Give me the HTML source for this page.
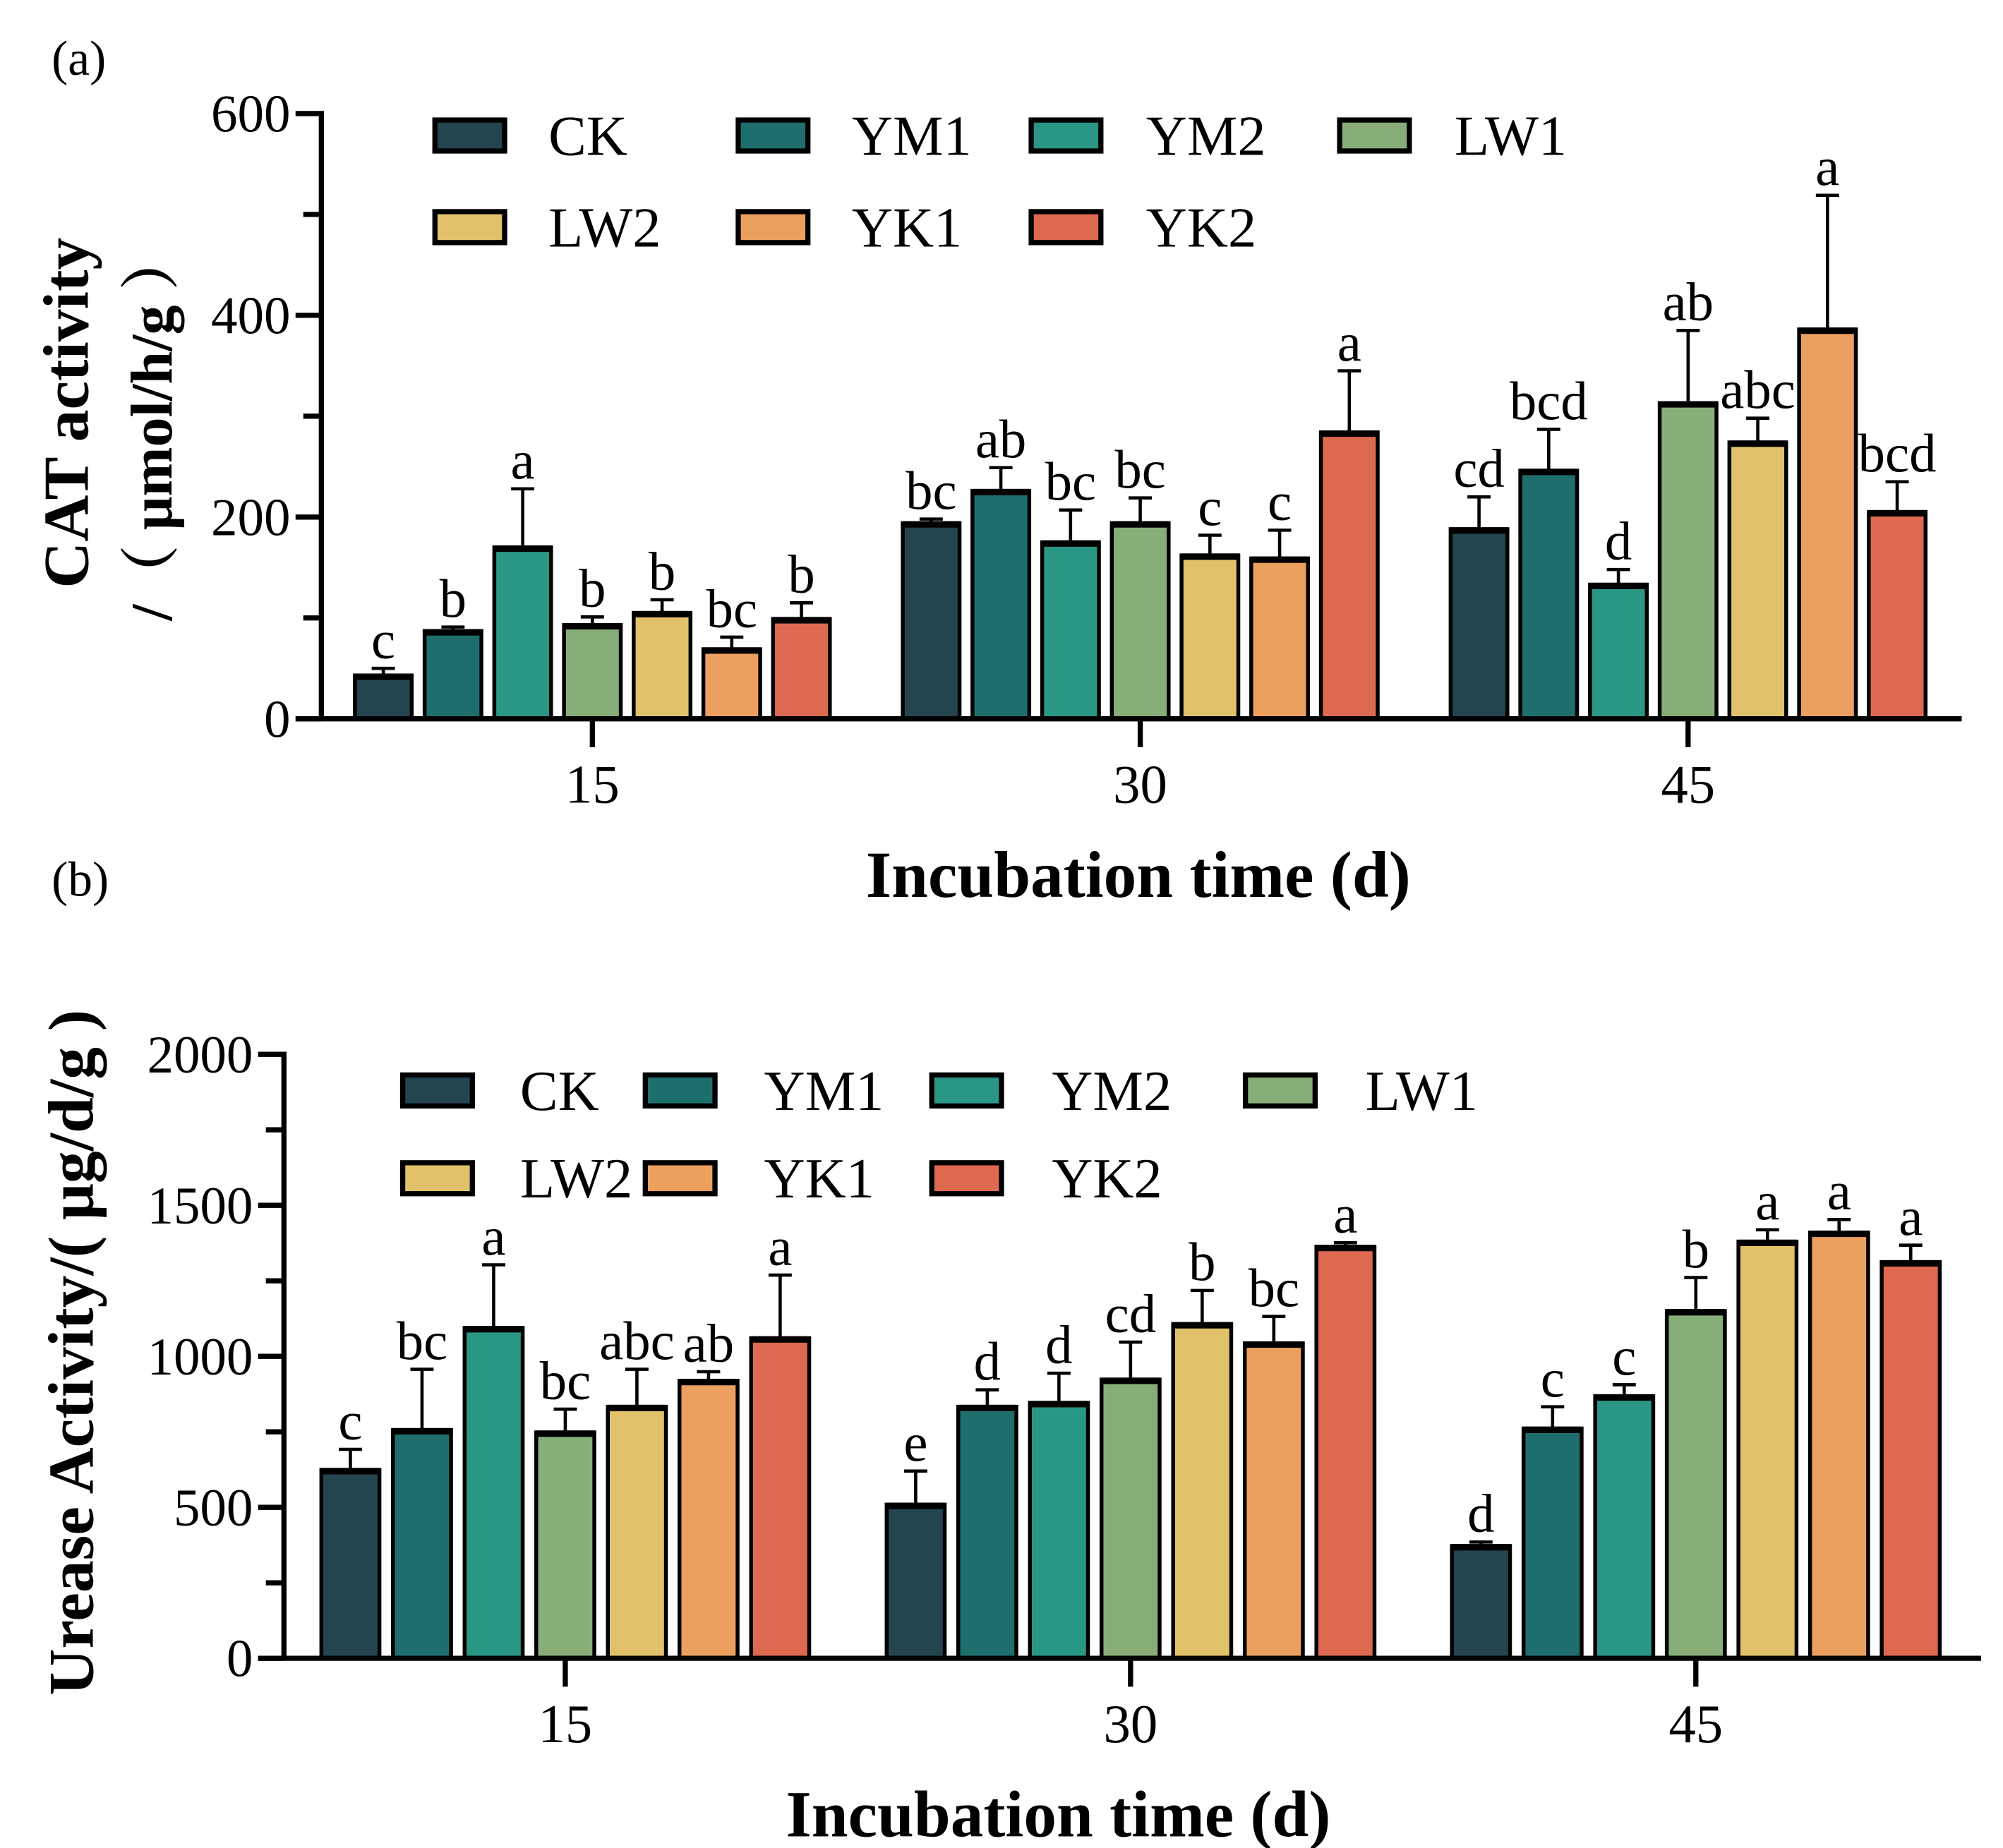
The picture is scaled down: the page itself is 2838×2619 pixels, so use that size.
<!DOCTYPE html>
<html><head><meta charset="utf-8"><style>
html,body{margin:0;padding:0;background:#fff;}
svg{display:block;}
text{font-family:"Liberation Serif","Noto Serif CJK SC",serif;fill:#000;}
</style></head><body>
<svg id="fig" width="2838" height="2619" viewBox="0 0 1552 1432" preserveAspectRatio="none" xmlns="http://www.w3.org/2000/svg"></svg>
<script>
const series = ["CK","YM1","YM2","LW1","LW2","YK1","YK2"];
const colors = ["#24444f","#1f6e6e","#2a9785","#87ad78","#e1c26a","#eba060","#dd6a50"];
const days = ["15","30","45"];
// Panel a (CAT)
const catMeans = [[43,87,170,93,105,69,99],[194,226,175,194,162,159,284],[188,246,133,313,274,386,205]];
const catErrTop = [[50,91,228,101,118,81,115],[198,249,207,219,182,187,345],[220,287,148,385,298,519,235]];
const catLetters = [["c","b","a","b","b","bc","b"],["bc","ab","bc","bc","c","c","a"],["cd","bcd","d","ab","abc","a","bcd"]];
const catTicks = [0,200,400,600];
// Panel b (Urease)
const ureMeans = [[624,756,1094,748,833,919,1060],[509,833,846,923,1107,1043,1363],[372,761,868,1150,1380,1410,1312]];
const ureErrTop = [[692,957,1303,825,957,949,1269],[620,889,944,1047,1218,1132,1376],[385,833,906,1261,1419,1453,1368]];
const ureLetters = [["c","bc","a","bc","abc","ab","a"],["e","d","d","cd","b","bc","a"],["d","c","c","b","a","a","a"]];
const ureTicks = [0,500,1000,1500,2000];

const NS="http://www.w3.org/2000/svg";
const svg=document.getElementById('fig');
function mk(tag,attrs,parent,txt){const e=document.createElementNS(NS,tag);for(const k in attrs)e.setAttribute(k,attrs[k]);if(txt!==undefined)e.textContent=txt;(parent||svg).appendChild(e);return e;}

function panel(cfg){
  const g=mk('g',{});
  
  
  const y=v=>cfg.y0-(v/cfg.max)*(cfg.y0-cfg.yTop);
  const x=(gi,si)=>cfg.c0+gi*cfg.gs+(si-3)*cfg.step;
  for(let gi=0;gi<3;gi++)for(let si=0;si<7;si++){
    const v=cfg.means[gi][si],e=cfg.err[gi][si];
    const cx=x(gi,si),w=cfg.bw;
    const eb=mk('line',{x1:cx,x2:cx,y1:y(v),y2:y(e),stroke:'#000','stroke-width':2.5},g);
    
    
    const cap=mk('line',{x1:cx-9,x2:cx+9,y1:y(e),y2:y(e),stroke:'#000','stroke-width':2.5},g);
    
    
    const r=mk('rect',{x:cx-w/2,y:y(v),width:w,height:cfg.y0-y(v),fill:colors[si],stroke:'#000','stroke-width':3},g);
    
    
    mk('line',{x1:cx-w/2,x2:cx+w/2,y1:y(v)+1,y2:y(v)+1,stroke:'#000','stroke-width':5},g);
    const t=mk('text',{x:cx,y:y(e)-8,'text-anchor':'middle','font-size':42},g,cfg.letters[gi][si]);
    
    
  }
  const ya=mk('line',{x1:cfg.ax,x2:cfg.ax,y1:cfg.yTop-2,y2:cfg.y0,stroke:'#000','stroke-width':4},g);
  
  
  const xa=mk('line',{x1:cfg.xL,x2:cfg.xR,y1:cfg.y0,y2:cfg.y0,stroke:'#000','stroke-width':4},g);
  
  
  for(let v=0;v<=cfg.max+1e-9;v+=cfg.minor){
    mk('line',{x1:cfg.ax-(cfg.ticks.includes(v)?20:14),x2:cfg.ax,y1:y(v),y2:y(v),stroke:'#000','stroke-width':4},g);
  }
  cfg.ticks.forEach(v=>{
    const t=mk('text',{x:cfg.ax-24,y:y(v)+14,'text-anchor':'end','font-size':41},g,String(v));
    
    
  });
  days.forEach((d,gi)=>{
    const cx=x(gi,3);
    mk('line',{x1:cx,x2:cx,y1:cfg.y0,y2:cfg.y0+22,stroke:'#000','stroke-width':4},g);
    const t=mk('text',{x:cx,y:cfg.y0+65,'text-anchor':'middle','font-size':42},g,d);
    
    
  });
  const xt=mk('text',{x:cfg.xtX,y:cfg.y0+138,'text-anchor':'middle','font-size':51,'font-weight':'bold'},g,'Incubation time (d)');
  
  
  cfg.leg.forEach((p,i)=>{
    const lg=mk('g',{},g);
    
    
    mk('rect',{x:p[0],y:p[1]-12,width:54,height:24,fill:colors[i],stroke:'#000','stroke-width':4},lg);
    mk('text',{x:p[2],y:p[1]+15,'font-size':44},lg,series[i]);
  });
  return g;
}

panel({name:'cat-chart',means:catMeans,err:catErrTop,letters:catLetters,ticks:catTicks,max:600,minor:100,
  y0:557,yTop:88,ax:249,xL:230,xR:1520,c0:459,gs:424.5,step:54,bw:44,xtX:882,
  leg:[[337,105,425],[572,105,660],[799,105,888],[1038,105,1127],[337,176,425],[572,176,660],[799,176,888]]});
panel({name:'urease-chart',means:ureMeans,err:ureErrTop,letters:ureLetters,ticks:ureTicks,max:2000,minor:250,
  y0:1285,yTop:817,ax:220,xL:200,xR:1535,c0:438,gs:438,step:55.5,bw:45,xtX:820,
  leg:[[312,845,403],[500,845,592],[722,845,815],[965,845,1058],[312,913,403],[500,913,592],[722,913,815]]});

let t;
t=mk('text',{x:40,y:58,'font-size':38},svg,'(a)');


t=mk('text',{x:40,y:694,'font-size':38},svg,'(b)');


t=mk('text',{x:0,y:0,'font-size':50,'font-weight':'bold','text-anchor':'middle',transform:'translate(68,320) rotate(-90)'},svg,'CAT activity');


t=mk('text',{x:0,y:0,'font-size':46,'font-weight':'bold','text-anchor':'middle',transform:'translate(133,330) rotate(-90)'},svg,'/（ μmol/h/g ）');


t=mk('text',{x:0,y:0,'font-size':50,'font-weight':'bold','text-anchor':'middle',transform:'translate(72,1048) rotate(-90)'},svg,'Urease Activity/( μg/d/g )');


</script>
</body></html>
